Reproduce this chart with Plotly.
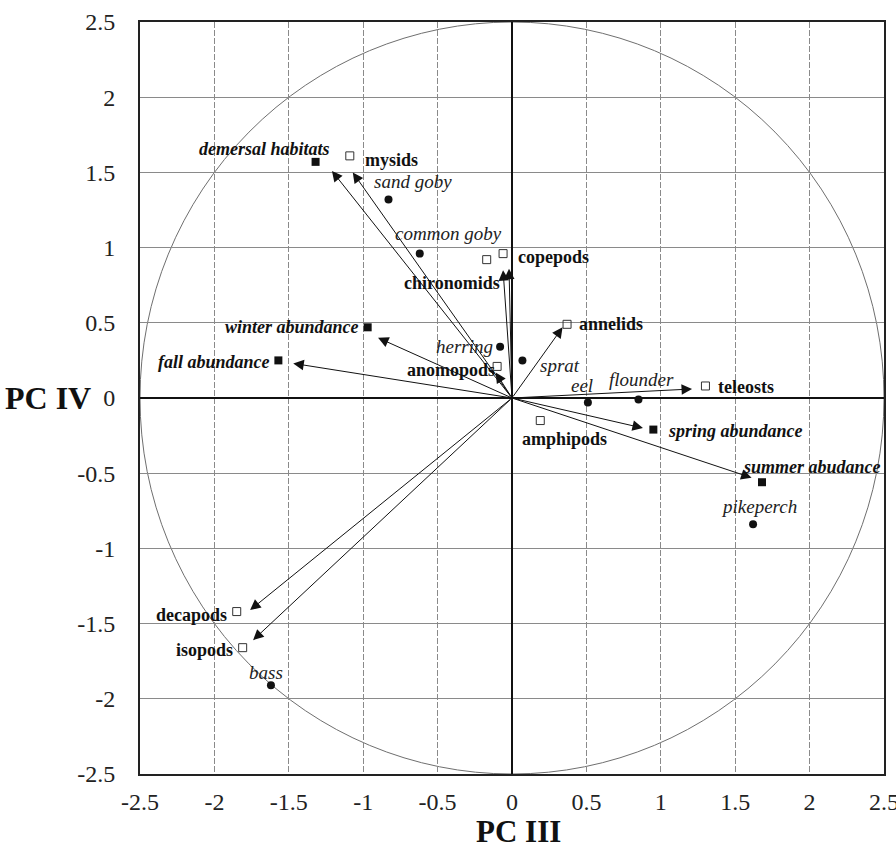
import plotly.graph_objects as go

# ---- PCA biplot: component III (x) against component IV (y) ----

# Fish species scores (filled dots, italic labels)
species = ["sand goby", "common goby", "herring", "sprat", "eel",
           "flounder", "pikeperch", "bass"]
species_pc3 = [-0.83, -0.62, -0.08, 0.07, 0.51, 0.85, 1.62, -1.62]
species_pc4 = [1.32, 0.96, 0.34, 0.25, -0.03, -0.01, -0.84, -1.91]

# Environmental / prey variables: marker positions and loading-vector tips
variables = ["demersal habitats", "mysids", "chironomids", "copepods",
             "annelids", "anomopods", "winter abundance", "fall abundance",
             "teleosts", "amphipods", "spring abundance", "summer abudance",
             "decapods", "isopods"]
var_pc3 = [-1.32, -1.09, -0.17, -0.06, 0.37, -0.10, -0.97, -1.57,
           1.30, 0.19, 0.95, 1.68, -1.85, -1.81]
var_pc4 = [1.57, 1.61, 0.92, 0.96, 0.49, 0.21, 0.47, 0.25,
           0.08, -0.15, -0.21, -0.56, -1.42, -1.66]
arrow_pc3 = [-1.21, -1.07, -0.06, -0.02, 0.34, -0.11, -0.90, -1.47,
             1.21, None, 0.88, 1.61, -1.76, -1.74]
arrow_pc4 = [1.51, 1.50, 0.85, 0.86, 0.47, 0.17, 0.40, 0.23,
             0.06, None, -0.20, -0.53, -1.41, -1.61]
# habitat / seasonal-abundance variables are drawn filled, prey groups open
var_filled = [True, False, False, False, False, False, True, True,
              False, False, True, True, False, False]

axis_ticks = [-2.5, -2.0, -1.5, -1.0, -0.5, 0.0, 0.5, 1.0, 1.5, 2.0, 2.5]
x_ticktext = ["-2.5", "-2", "-1.5", "-1", "-0.5", "0", "0.5", "1", "1.5", "2", "2.5"]
y_ticktext = ["-2.5", "-2", "-1.5", "-1", "-0.5", "0", "0.5", "1", "1.5", "2", "2.5"]

# label placement: (xanchor, xshift px, yshift px)
species_label_pos = {
    "sand goby": ("center", 24, 18),
    "common goby": ("center", 29, 20),
    "herring": ("right", -5, 0),
    "sprat": ("left", 16, -5),
    "eel": ("center", -6, 17),
    "flounder": ("center", 3, 20),
    "pikeperch": ("center", 6, 18),
    "bass": ("center", -5, 13),
}
var_label_pos = {
    "demersal habitats": ("right", 16, 13),
    "mysids": ("left", 13, -4),
    "chironomids": ("right", 15, -23),
    "copepods": ("left", 13, -3),
    "annelids": ("left", 10, 0),
    "anomopods": ("right", 0, -4),
    "winter abundance": ("right", -7, 0),
    "fall abundance": ("right", -6, -2),
    "teleosts": ("left", 11, -1),
    "amphipods": ("center", 24, -18),
    "spring abundance": ("left", 13, -1),
    "summer abudance": ("center", 50, 15),
    "decapods": ("right", -8, -3),
    "isopods": ("right", -8, -2),
}

SERIF = "Liberation Serif, Times New Roman, serif"

fig = go.Figure()

# correlation circle of radius 2.5
fig.add_shape(type="circle", xref="x", yref="y", x0=-2.5, y0=-2.5, x1=2.5, y1=2.5,
              line=dict(color="#6f6f6f", width=1), layer="below")

# loading vectors
annotations = []
for name, tx, ty in zip(variables, arrow_pc3, arrow_pc4):
    if tx is None:
        continue
    annotations.append(dict(
        x=tx, y=ty, ax=0, ay=0, xref="x", yref="y", axref="x", ayref="y",
        text="", showarrow=True, arrowhead=2, arrowsize=2.1, arrowwidth=1,
        arrowcolor="#111"))

# variable markers
open_x = [x for x, f in zip(var_pc3, var_filled) if not f]
open_y = [y for y, f in zip(var_pc4, var_filled) if not f]
fill_x = [x for x, f in zip(var_pc3, var_filled) if f]
fill_y = [y for y, f in zip(var_pc4, var_filled) if f]

fig.add_trace(go.Scatter(x=open_x, y=open_y, mode="markers", showlegend=False,
                         marker=dict(symbol="square-open", size=8, color="#333",
                                     line=dict(width=1))))
fig.add_trace(go.Scatter(x=fill_x, y=fill_y, mode="markers", showlegend=False,
                         marker=dict(symbol="square", size=8, color="#111")))
fig.add_trace(go.Scatter(x=species_pc3, y=species_pc4, mode="markers", showlegend=False,
                         marker=dict(symbol="circle", size=8, color="#111")))

# species labels
for name, x, y in zip(species, species_pc3, species_pc4):
    anchor, dx, dy = species_label_pos[name]
    annotations.append(dict(
        x=x, y=y, xref="x", yref="y", text=name, showarrow=False,
        xanchor=anchor, yanchor="middle", xshift=dx, yshift=dy,
        font=dict(family=SERIF, size=19, color="#222", style="italic")))

# variable labels
for name, x, y, filled in zip(variables, var_pc3, var_pc4, var_filled):
    anchor, dx, dy = var_label_pos[name]
    annotations.append(dict(
        x=x, y=y, xref="x", yref="y", text=name, showarrow=False,
        xanchor=anchor, yanchor="middle", xshift=dx, yshift=dy,
        font=dict(family=SERIF, size=18, color="#111", weight="bold",
                  style="italic" if filled else "normal")))

# axis titles
annotations.append(dict(x=-2.5, y=0, xref="x", yref="y", text="PC IV", showarrow=False,
                        xanchor="right", yanchor="middle", xshift=-47,
                        font=dict(family=SERIF, size=32, color="#111", weight="bold")))
annotations.append(dict(x=0, y=-2.5, xref="x", yref="y", text="PC III", showarrow=False,
                        xanchor="center", yanchor="middle", xshift=6, yshift=-57,
                        font=dict(family=SERIF, size=31, color="#111", weight="bold")))

axis_common = dict(
    range=[-2.5, 2.5], tickmode="array", tickvals=axis_ticks, automargin=False,
    ticklabeloverflow="allow",
    showgrid=True, gridcolor="#8a8a8a", gridwidth=1,
    zeroline=True, zerolinecolor="#111", zerolinewidth=1.5,
    showline=True, linecolor="#222", linewidth=2, mirror=True,
    ticks="", tickfont=dict(family=SERIF, size=24, color="#222"),
)

fig.update_layout(
    width=896, height=854, autosize=False,
    margin=dict(l=140, r=12, t=22, b=80),
    paper_bgcolor="white", plot_bgcolor="white",
    xaxis=dict(**axis_common, ticktext=x_ticktext, griddash="6px,2px",
               ticklabelstandoff=5),
    yaxis=dict(**axis_common, ticktext=y_ticktext, ticklabelstandoff=18),
    annotations=annotations,
)

fig.write_html("out.html")
